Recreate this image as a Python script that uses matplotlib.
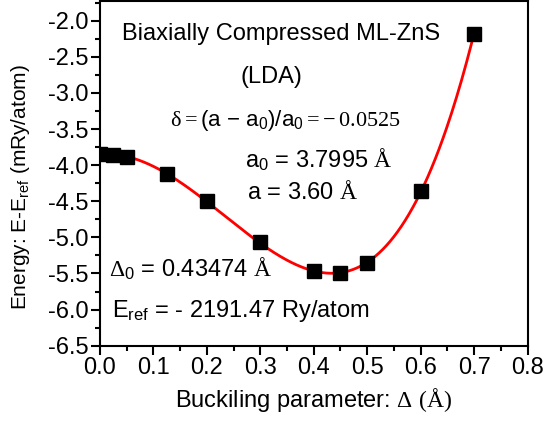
import numpy as np
import matplotlib
matplotlib.use("Agg")
import matplotlib.pyplot as plt
from matplotlib.ticker import MultipleLocator

plt.rcParams['font.family'] = ['Liberation Sans', 'DejaVu Sans']
plt.rcParams['mathtext.fontset'] = 'custom'
plt.rcParams['mathtext.rm'] = 'Liberation Sans'
plt.rcParams['mathtext.it'] = 'Liberation Sans'
plt.rcParams['mathtext.sf'] = 'Liberation Serif'
plt.rcParams['axes.unicode_minus'] = False

# buckling parameter (A) and energy E-E_ref (mRy/atom)
delta = [0.0, 0.025, 0.05, 0.125, 0.2, 0.3, 0.4, 0.45, 0.5, 0.6, 0.7]
energy = [-3.84, -3.86, -3.89, -4.12, -4.50, -5.07, -5.47, -5.50, -5.35, -4.36, -2.18]

# polynomial fit for the red curve
coef = np.polyfit(delta, energy, 4)
xf = np.linspace(0, 0.7, 300)
yf = np.polyval(coef, xf)

fig = plt.figure(figsize=(5.44, 4.24), dpi=100)
ax = fig.add_axes([0.1838, 0.1847, 0.7859, 0.8123])

ax.plot(xf, yf, color='red', lw=2, zorder=2)
ax.plot(delta, energy, 's', color='black', ms=9.5, zorder=3)

ax.set_xlim(0, 0.8)
ax.set_ylim(-6.5, -1.73)
ax.xaxis.set_major_locator(MultipleLocator(0.1))
ax.xaxis.set_minor_locator(MultipleLocator(0.05))
ax.yaxis.set_major_locator(MultipleLocator(0.5))
ax.yaxis.set_minor_locator(MultipleLocator(0.25))
ax.xaxis.set_major_formatter(plt.FormatStrFormatter('%.1f'))
ax.yaxis.set_major_formatter(plt.FormatStrFormatter('%.1f'))
ax.tick_params(which='major', direction='out', length=6.5, width=1.5, labelsize=17, pad=2)
ax.tick_params(which='minor', direction='out', length=3.5, width=1.5)
for s in ax.spines.values():
    s.set_linewidth(1.5)

ax.set_xlabel(r"Buckiling parameter: $\mathsf{\Delta\ (Å)}$", fontsize=17, labelpad=5)
ax.set_ylabel(r"Energy: E-E$_{\mathregular{ref}}$ (mRy/atom)", fontsize=15)
ax.yaxis.set_label_coords(-0.16, 0.46)

fs = 17
ax.text(0.3396, -2.271, "Biaxially Compressed ML-ZnS", fontsize=fs, ha='center', va='baseline')
ax.text(0.3208, -2.862, "(LDA)", fontsize=fs, ha='center', va='baseline')
ax.text(0.1313, -3.453, r"$\mathsf{\delta =}$(a $-$ a$_0$)/a$_0$$\mathsf{= -\,0.0525}$",
        fontsize=16, ha='left', va='baseline')
ax.text(0.272, -4.03, r"a$_0$ = 3.7995 $\mathsf{Å}$", fontsize=fs, ha='left', va='baseline')
ax.text(0.2758, -4.47, r"a = 3.60 $\mathsf{Å}$", fontsize=fs, ha='left', va='baseline')
ax.text(0.0169, -5.54, r"$\mathsf{\Delta}_0$ = 0.43474 $\mathsf{Å}$", fontsize=fs, ha='left', va='baseline')
ax.text(0.0225, -6.105, r"E$_{\mathregular{ref}}$ = - 2191.47 Ry/atom", fontsize=fs, ha='left', va='baseline')

fig.savefig("out.png", dpi=100)
